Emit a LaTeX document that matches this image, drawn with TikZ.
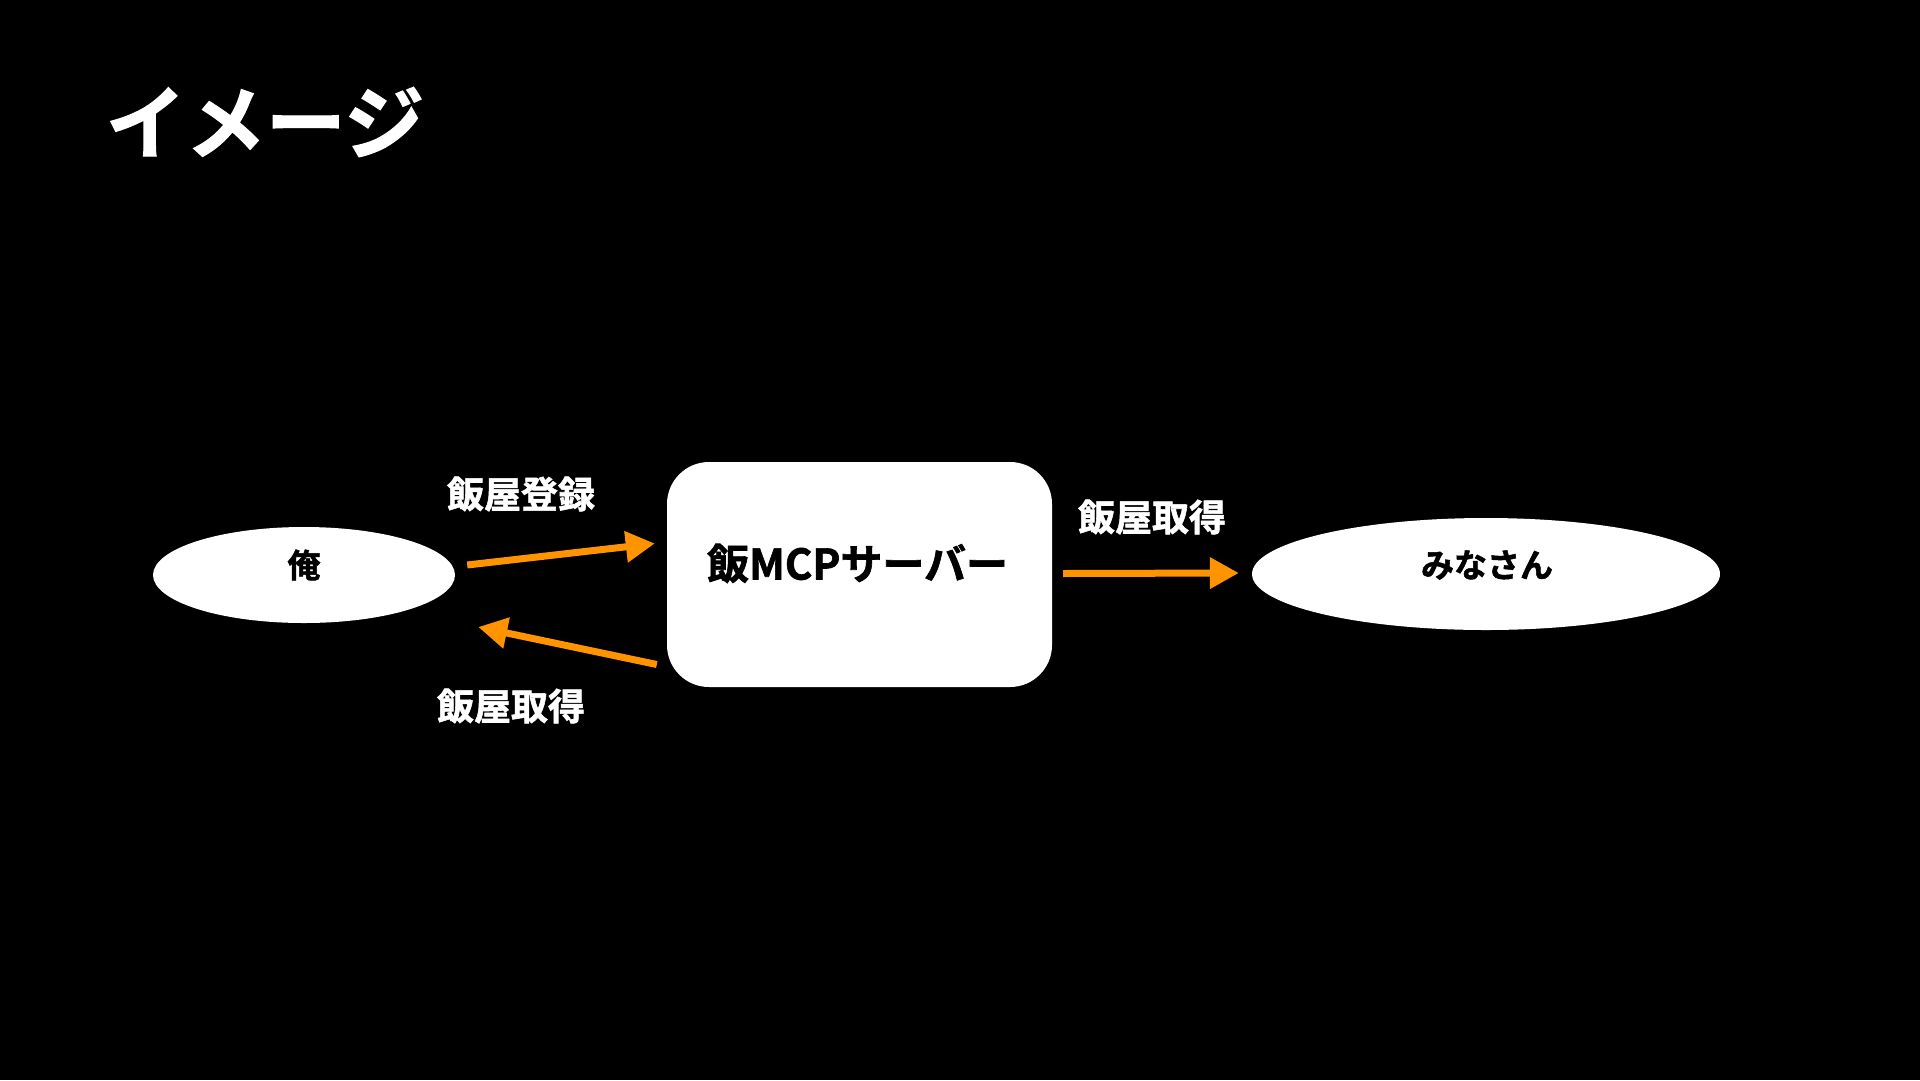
\documentclass[tikz,border=0pt]{standalone}
\usepackage{fontspec}
\setmainfont{Noto Sans CJK JP}[BoldFont={* Bold},BoldFeatures={FakeBold=1.5}]
\usetikzlibrary{shapes.geometric,arrows.meta,calc}
\definecolor{arrowor}{RGB}{255,147,0}
\tikzset{
  shapebox/.style={fill=white,draw=none,inner sep=0pt},
  blobshape/.style={shapebox,ellipse},
  flowarrow/.style={draw=arrowor,line width=7pt,-{Triangle[length=29pt,width=30pt]}},
  whitetext/.style={text=white,font=\bfseries\fontsize{37}{44}\selectfont,inner sep=0pt},
  blacktext/.style={text=black,font=\bfseries\fontsize{33}{40}\selectfont,inner sep=0pt},
}
\begin{document}
\begin{tikzpicture}[x=1pt,y=-1pt]
\path[use as bounding box,fill=black] (0,0) rectangle (1920,1080);
% title
\node[text=white,font=\bfseries\fontsize{80}{96}\selectfont,inner sep=0pt] (title) at (265,122) {イメージ};
% shapes
\node[blobshape,minimum width=302pt,minimum height=96pt] (ore) at (304,575) {};
\node[shapebox,rounded corners=42pt,minimum width=385pt,minimum height=225pt] (srv) at (859.5,574.5) {};
\node[blobshape,minimum width=468pt,minimum height=112pt] (minna) at (1486,574) {};
% texts in shapes
\node[blacktext] (oretxt) at ($(ore.center)+(0,-10)$) {俺};
\node[blacktext,font=\bfseries\fontsize{42}{50}\selectfont] (srvtxt) at ($(srv.center)+(-2,-11)$) {飯MCPサーバー};
\node[blacktext] (minnatxt) at ($(minna.center)+(1,-9)$) {みなさん};
% arrows
\coordinate (a1s) at ($(ore.east)+(12,-10)$);
\coordinate (a1e) at ($(srv.west)+(-12,-31)$);
\coordinate (a2s) at ($(srv.west)+(-10,90)$);
\coordinate (a2e) at ($(ore.east)+(23,52)$);
\coordinate (a3s) at ($(srv.east)+(11,-1)$);
\coordinate (a3e) at ($(minna.west)+(-13,-1)$);
\draw[flowarrow] (a1s) -- (a1e);
\draw[flowarrow] (a2s) -- (a2e);
\draw[flowarrow] (a3s) -- (a3e);
% labels
\node[whitetext] (l1) at (521,494) {飯屋登録};
\node[whitetext] (l2) at (511,706) {飯屋取得};
\node[whitetext] (l3) at (1152,517) {飯屋取得};
\end{tikzpicture}
\end{document}
